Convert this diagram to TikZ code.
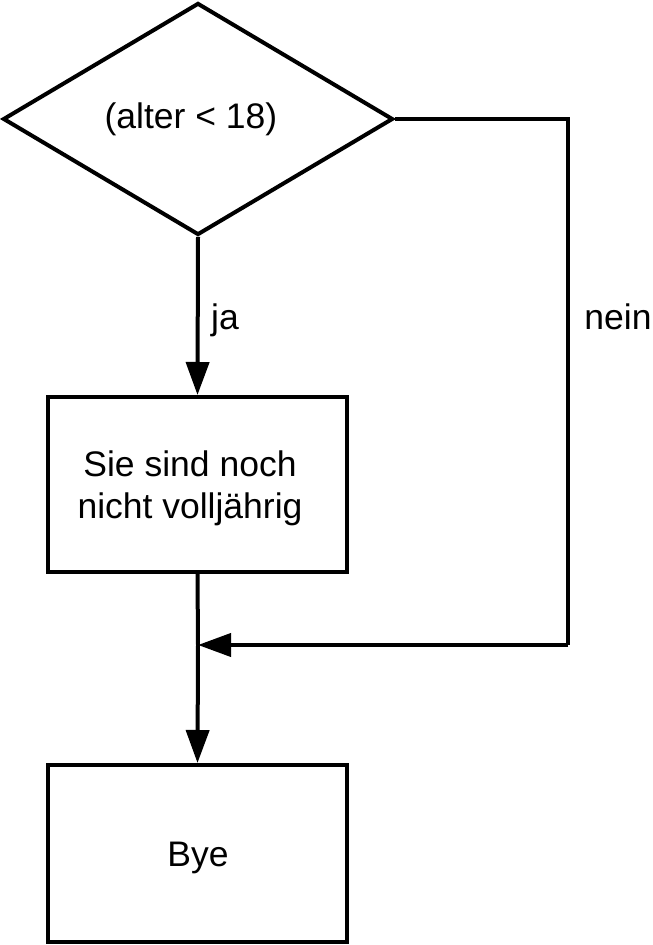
\documentclass[tikz,border=0pt]{standalone}
\usepackage{fontspec}
\setmainfont{Liberation Sans}
\usetikzlibrary{shapes.geometric,arrows.meta}
\begin{document}
\begin{tikzpicture}[x=1pt,y=1pt,
  every node/.style={font=\fontsize{35.5}{42}\selectfont},
  box/.style={draw, line width=4pt, minimum width=299pt, inner sep=0pt, align=center},
  dec/.style={draw, diamond, line width=4pt, aspect=1.68, minimum width=390pt, minimum height=232pt, inner sep=0pt},
  flow/.style={line width=4pt, -{Triangle[length=33pt,width=23pt]}},
  plain/.style={line width=4pt}]
\useasboundingbox (0,0) rectangle (653,945);
\node[dec] (d) at (198,826) {};
\node (dt) at (191,826) {(alter < 18)};
\node[box, minimum height=175pt] (s) at (197.5,460.5) {};
\node (st) at (190,457) [align=center] {Sie sind noch\\nicht volljährig};
\node[box, minimum height=177pt] (b) at (197.5,91.5) {};
\node (bt) at (198,87) {Bye};
\coordinate (j) at (198,300);
\coordinate (r) at (568,300);
\draw[flow] (d.south) -- (s.north);
\node (ja) at (225,625) {ja};
\draw[plain] (s.south) -- (j);
\draw[flow] (j) -- (b.north);
\draw[plain] (d.east) -| (r);
\draw[flow] (r) -- (j);
\node (nein) at (618,628) {nein};
\end{tikzpicture}
\end{document}
